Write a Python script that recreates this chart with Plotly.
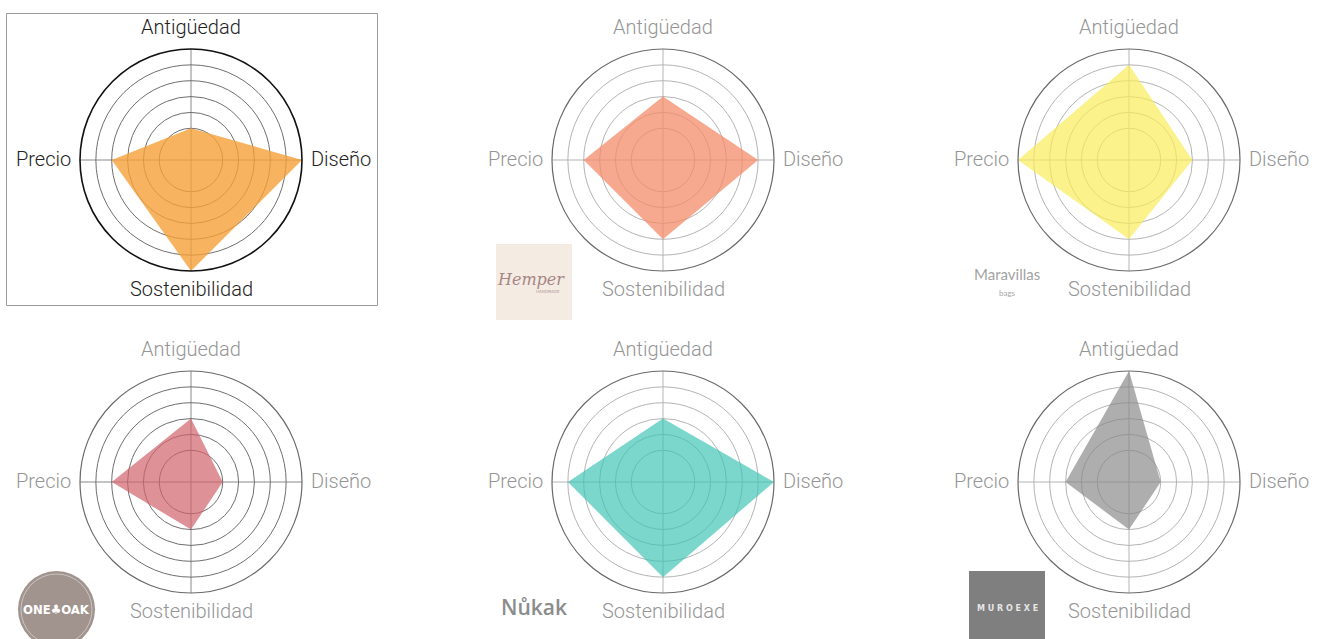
import plotly.graph_objects as go

W, H = 1323, 639

# Criteria shown on every radar, clockwise from the top
categories = ["Antigüedad", "Diseño", "Sostenibilidad", "Precio"]

# Brand scores (1 = lowest ring, 6 = outer circle)
brands = ["Ecoalf", "Hemper", "Maravillas bags", "One Oak", "Nukak", "Muroexe"]
score_ecoalf = [1, 6, 6, 4]
score_hemper = [3, 5, 4, 4]
score_maravillas = [5, 3, 4, 6]
score_oneoak = [3, 1, 2, 4]
score_nukak = [3, 6, 5, 5]
score_muroexe = [6, 1, 2, 3]
scores = [score_ecoalf, score_hemper, score_maravillas, score_oneoak, score_nukak, score_muroexe]

fill_colors = [
    "rgba(246,160,58,0.80)",
    "rgba(244,140,105,0.75)",
    "rgba(250,236,90,0.70)",
    "rgba(208,100,108,0.70)",
    "rgba(60,195,180,0.68)",
    "rgba(135,135,135,0.68)",
]

# Pixel centres of the six radar panels and their radius
centers = [(191, 160), (663, 160), (1129, 160), (191, 482), (663, 482), (1129, 482)]
R = 111

# Where each criterion label sits around its radar: (dx, dy, xanchor)
label_offsets = {
    "Antigüedad": (0, -133, "center"),
    "Diseño": (118, -1, "left"),
    "Sostenibilidad": (0, 129, "center"),
    "Precio": (-118, -1, "right"),
}


def px_x(x):
    return x / W


def px_y(y):
    return 1 - y / H


fig = go.Figure()
layout = {}
annotations = []

for i, (vals, col, (cx, cy)) in enumerate(zip(scores, fill_colors, centers)):
    key = "polar" if i == 0 else f"polar{i + 1}"
    fig.add_trace(go.Scatterpolar(
        r=vals + vals[:1],
        theta=categories + categories[:1],
        fill="toself",
        fillcolor=col,
        mode="lines",
        line=dict(color="rgba(0,0,0,0)", width=0),
        name=brands[i],
        subplot=key,
        showlegend=False,
    ))
    highlighted = i == 0
    dark_rings = i in (0, 3)
    layout[key] = dict(
        domain=dict(x=[px_x(cx - R), px_x(cx + R)], y=[px_y(cy + R), px_y(cy - R)]),
        bgcolor="rgba(0,0,0,0)",
        radialaxis=dict(
            range=[-1, 6],
            tickvals=[1, 2, 3, 4, 5],
            showticklabels=False,
            ticks="",
            showline=False,
            gridcolor="#6f6f6f" if dark_rings else "#b4b4b4",
            gridwidth=1,
        ),
        angularaxis=dict(
            categoryorder="array",
            categoryarray=categories,
            rotation=90,
            direction="clockwise",
            showline=True,
            linecolor="#111111" if highlighted else "#6a6a6a",
            linewidth=1.6 if highlighted else 1.2,
            gridcolor="#8a8a8a" if dark_rings else "#b4b4b4",
            ticks="",
            showticklabels=False,
        ),
    )
    for cat in categories:
        dx, dy, anchor = label_offsets[cat]
        annotations.append(dict(
            text=cat, x=px_x(cx + dx), y=px_y(cy + dy),
            xref="paper", yref="paper", showarrow=False,
            xanchor=anchor, yanchor="middle",
            font=dict(family="Roboto", weight=300, size=20,
                      color="#222222" if highlighted else "#959595"),
        ))

shapes = [
    # frame around the highlighted panel
    dict(type="rect", xref="paper", yref="paper",
         x0=px_x(6.5), x1=px_x(377.5), y0=px_y(305.5), y1=px_y(13.5),
         line=dict(color="#9a9a9a", width=1), fillcolor="rgba(0,0,0,0)"),
    # Hemper badge
    dict(type="rect", xref="paper", yref="paper",
         x0=px_x(496), x1=px_x(572), y0=px_y(320), y1=px_y(244),
         line=dict(width=0), fillcolor="#f4ebe2"),
    # One Oak badge
    dict(type="circle", xref="paper", yref="paper",
         x0=px_x(18), x1=px_x(95), y0=px_y(648), y1=px_y(571),
         line=dict(width=0), fillcolor="#a1948e"),
    dict(type="circle", xref="paper", yref="paper",
         x0=px_x(21), x1=px_x(92), y0=px_y(645), y1=px_y(574),
         line=dict(width=0.8, color="rgba(255,255,255,0.55)"), fillcolor="rgba(0,0,0,0)"),
    # Muroexe badge
    dict(type="rect", xref="paper", yref="paper",
         x0=px_x(969), x1=px_x(1045), y0=px_y(639), y1=px_y(571),
         line=dict(width=0), fillcolor="#7f7f7f"),
]


def badge_text(text, x, y, size, color, family="DejaVu Sans", **font_extra):
    return dict(text=text, x=px_x(x), y=px_y(y), xref="paper", yref="paper",
                showarrow=False, xanchor="center", yanchor="middle",
                font=dict(family=family, size=size, color=color, **font_extra))


annotations += [
    badge_text("Hemper", 531, 279, 16, "#a68686", family="DejaVu Serif", style="italic"),
    badge_text("HANDMADE", 548, 291, 4, "#b39a9a"),
    badge_text("Maravillas", 1007, 274, 15, "#a3a3a3", family="Lato"),
    badge_text("bags", 1007, 293, 8, "#a8a8a8", family="Lato"),
    badge_text("<b>ONE♣OAK</b>", 56.5, 609, 13, "#ffffff", family="DejaVu Sans Condensed"),
    badge_text("Nůkak", 534, 607, 21, "#8c8c8c", family="Open Sans", weight=600),
    badge_text("<b>M U R O E X E</b>", 1007, 608, 8, "#e6e6e6"),
]

fig.update_layout(
    width=W,
    height=H,
    margin=dict(l=0, r=0, t=0, b=0),
    paper_bgcolor="#ffffff",
    plot_bgcolor="#ffffff",
    showlegend=False,
    shapes=shapes,
    annotations=annotations,
    **layout,
)

fig.write_html("out.html")
